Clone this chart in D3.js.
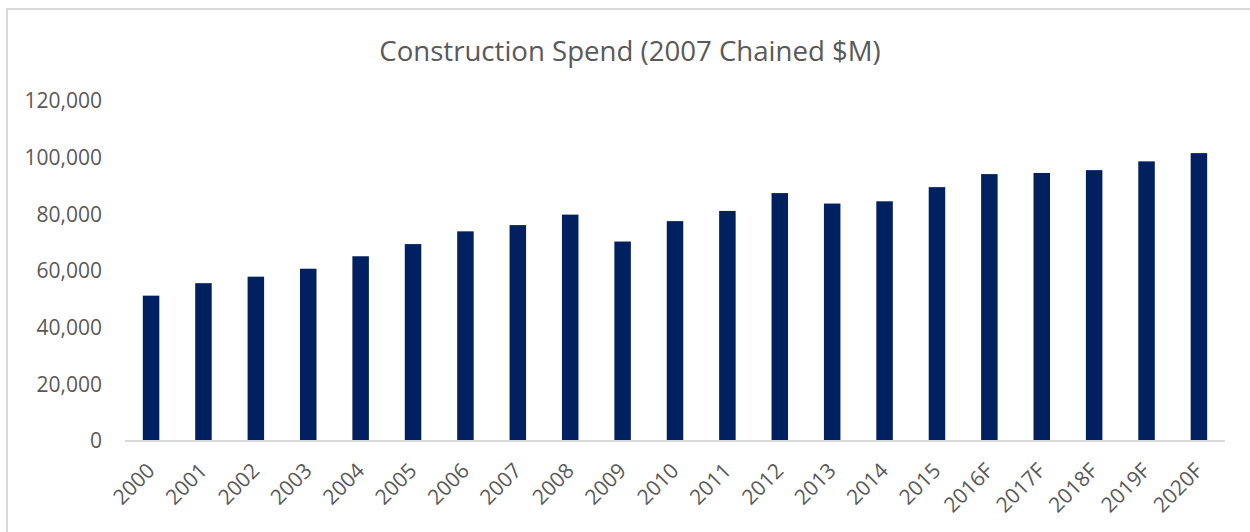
<!DOCTYPE html>
<html>
<head>
<meta charset="utf-8">
<script src="https://cdn.jsdelivr.net/npm/d3@7"></script>
<style>
  html, body { margin: 0; padding: 0; background: #fff; }
  svg { display: block; }
</style>
</head>
<body>
<svg id="chart" width="1250" height="532"></svg>
<script>
const categories = ["2000","2001","2002","2003","2004","2005","2006","2007","2008","2009","2010",
  "2011","2012","2013","2014","2015","2016F","2017F","2018F","2019F","2020F"];
const spend = [51300, 55700, 58000, 60800, 65200, 69500, 74000, 76200, 79900, 70400, 77600,
  81200, 87500, 83800, 84600, 89600, 94200, 94600, 95600, 98700, 101600];
const yTicks = [0, 20000, 40000, 60000, 80000, 100000, 120000];
const title = "Construction Spend (2007 Chained $M)";

const svg = d3.select("#chart");
const font = "'Open Sans', 'Noto Sans', sans-serif";
const textColor = "#595959";

// chart border
svg.append("rect")
  .attr("x", 7).attr("y", 9)
  .attr("width", 1260).attr("height", 540)
  .attr("fill", "#fff")
  .attr("stroke", "#d9d9d9").attr("stroke-width", 2);

const x = d3.scaleBand().domain(categories).range([125, 1225]).paddingInner(0.685).paddingOuter(0.34);
const y = d3.scaleLinear().domain([0, 120000]).range([441, 101]);

svg.append("text")
  .attr("x", 630).attr("y", 61)
  .attr("text-anchor", "middle")
  .attr("font-family", font).attr("font-size", 27.6)
  .attr("fill", textColor)
  .text(title);

// bars
svg.append("g").selectAll("rect").data(categories).join("rect")
  .attr("x", d => x(d))
  .attr("width", x.bandwidth())
  .attr("y", (d, i) => y(spend[i]))
  .attr("height", (d, i) => y(0) - y(spend[i]))
  .attr("fill", "#002060");

// y axis (labels only)
const yAxis = svg.append("g").attr("transform", "translate(102,0)")
  .call(d3.axisLeft(y).tickValues(yTicks).tickSize(0).tickPadding(0).tickFormat(d3.format(",")));
yAxis.select(".domain").remove();
yAxis.selectAll("text")
  .attr("font-family", font).attr("font-size", 21)
  .attr("fill", textColor);

// x axis
const xAxis = svg.append("g").attr("transform", `translate(0,${y(0)})`)
  .call(d3.axisBottom(x).tickSize(0).tickPadding(0));
xAxis.select(".domain")
  .attr("d", "M125,0H1225")
  .attr("stroke", "#d9d9d9").attr("stroke-width", 2);
xAxis.selectAll(".tick text")
  .attr("font-family", font).attr("font-size", 21)
  .attr("fill", textColor)
  .attr("text-anchor", "end")
  .attr("dy", 0)
  .attr("transform", "translate(5,31) rotate(-45)")
  .attr("y", 0);
</script>
</body>
</html>
